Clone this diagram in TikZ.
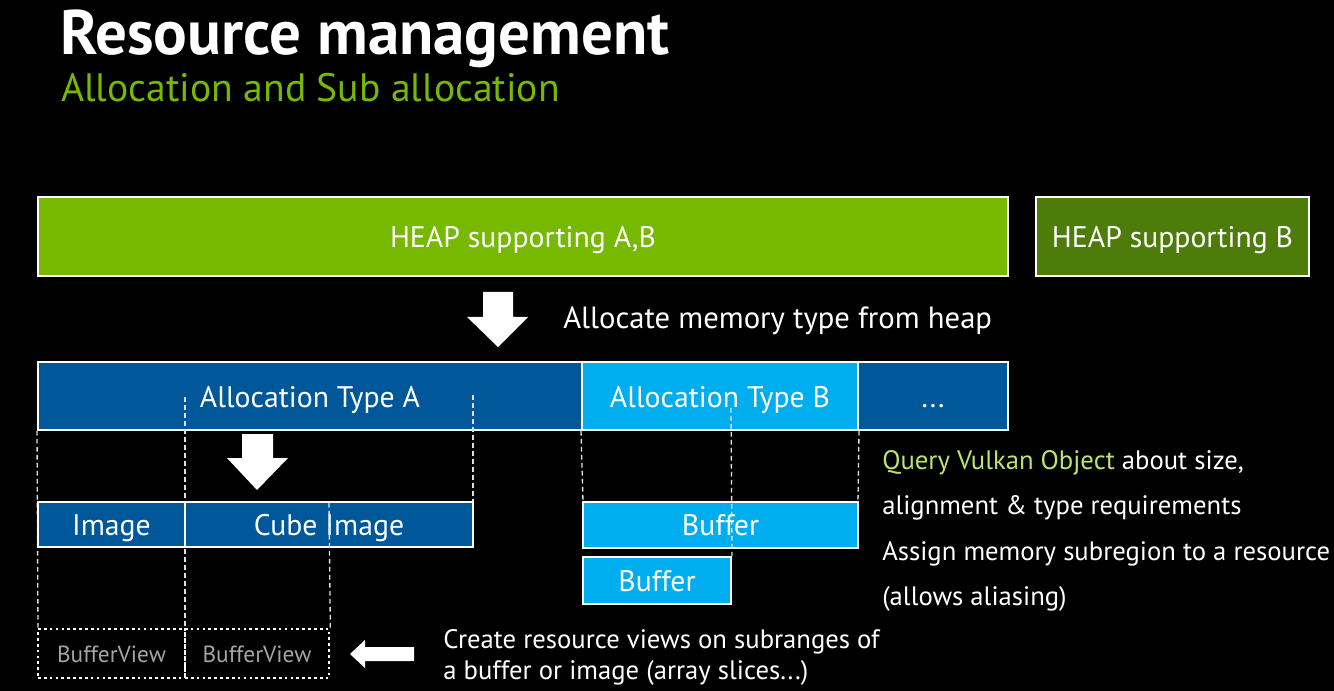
\documentclass[tikz,border=0pt]{standalone}
\usepackage{fontspec}
\setmainfont{PT Sans}
\usetikzlibrary{fit}
\definecolor{nvgreen}{RGB}{118,185,0}
\definecolor{heapb}{RGB}{78,124,10}
\definecolor{dblue}{RGB}{0,88,154}
\definecolor{lblue}{RGB}{0,174,239}
\definecolor{qgreen}{RGB}{190,228,110}
\definecolor{bvgrey}{RGB}{165,165,165}
\definecolor{dashgrey}{RGB}{225,225,225}
\tikzset{
  box/.style={draw=white, line width=1.5pt, inner sep=0pt},
  viewbox/.style={draw=white, line width=2pt, dash pattern=on 2pt off 2.4pt, inner sep=0pt},
  boxlabel/.style={anchor=base, inner sep=0pt, text=white, font=\fontsize{22.3}{26}\selectfont},
  viewlabel/.style={anchor=base, inner sep=0pt, text=bvgrey, font=\fontsize{17.5}{21}\selectfont},
  guide/.style={draw=dashgrey, line width=1pt, dash pattern=on 3.5pt off 2.5pt},
  bigarrow/.style={fill=white, draw=none},
  body/.style={text=white, inner sep=0pt, font=\fontsize{23}{27}\selectfont},
  small/.style={text=white, inner sep=0pt, font=\fontsize{20}{24}\selectfont},
}
\begin{document}
\begin{tikzpicture}[x=0.75pt, y=-0.75pt]
\fill[black] (0,0) rectangle (1334,691);
\useasboundingbox (0,0) rectangle (1334,691);
% titles
\node[anchor=base west, inner sep=0pt, text=white, font=\fontsize{47.2}{54}\selectfont\bfseries] (title) at (60,55) {Resource management};
\node[anchor=base west, inner sep=0pt, text=nvgreen, font=\fontsize{29.7}{35}\selectfont] (subtitle) at (61,102) {Allocation and Sub allocation};
% heaps
\node[box, fill=nvgreen, fit={(38,197) (1008,276)}] (heapab) {};
\node[boxlabel] (heapabl) at ([yshift=-8.6pt]heapab.center) {HEAP supporting A,B};
\node[box, fill=heapb, fit={(1036,197) (1309,276)}] (heapb) {};
\node[boxlabel] (heapbl) at ([yshift=-8.6pt]heapb.center) {HEAP supporting B};
% big arrow
\fill[bigarrow] (483,292) -- (513,292) -- (513,317) -- (528,317) -- (498,347) -- (467,317) -- (483,317) -- cycle;
\node[body, anchor=west] (alloctxt) at (563,321) {Allocate memory type from heap};
% allocation types
\node[box, fill=dblue, fit={(38,362) (582,430)}] (typea) {};
\node[boxlabel] (typeal) at (310,407) {Allocation Type A};
\node[box, fill=lblue, fit={(582,362) (858,430)}] (typeb) {};
\node[boxlabel] (typebl) at ([yshift=-8.3pt]typeb.center) {Allocation Type B};
\node[box, fill=dblue, fit={(858,362) (1008,430)}] (more) {};
\node[boxlabel] (morel) at ([yshift=-8.3pt]more.center) {...};
% guide coordinates
\coordinate (ga1) at (185,397);
\coordinate (ga2) at (473,395);
\coordinate (gb1) at (731,408);
\coordinate (gc1) at (329,503);
% guides (drawn before sub boxes)
\draw[guide] (typea.south west) -- (38,629);
\draw[guide] (ga1) -- (185,629);
\draw[guide] (ga2) -- (473,502);
\draw[guide] (typeb.south west) -- (583,502);
\draw[guide] (typeb.south east) -- (858,502);
% small arrow
\fill[bigarrow] (242,434) -- (273,434) -- (273,458) -- (288,458) -- (257,490) -- (227,458) -- (242,458) -- cycle;
% sub allocations
\node[box, fill=dblue, fit={(38,502) (185,547)}] (img) {};
\node[boxlabel] (imgl) at ([yshift=-8pt]img.center) {Image};
\node[box, fill=dblue, fit={(185,502) (473,547)}] (cube) {};
\node[boxlabel] (cubel) at ([yshift=-8pt]cube.center) {Cube Image};
\node[box, fill=lblue, fit={(583,502) (858,548)}] (buf1) {};
\node[boxlabel] (buf1l) at ([yshift=-8pt]buf1.center) {Buffer};
\node[box, fill=lblue, fit={(583,557) (731,604)}] (buf2) {};
\node[boxlabel] (buf2l) at ([yshift=-8pt]buf2.center) {Buffer};
\draw[guide] (gb1) -- (buf2.north east);
% buffer views
\node[viewbox, fit={(38,629) (185,678)}] (bv1) {};
\node[viewlabel] (bv1l) at ([yshift=-6.4pt]bv1.center) {BufferView};
\node[viewbox, fit={(185,629) (329,678)}] (bv2) {};
\node[viewlabel] (bv2l) at ([yshift=-6.4pt]bv2.center) {BufferView};
\draw[guide] (gc1) -- (bv2.north east);
% left arrow
\fill[bigarrow] (414,647) -- (414,661) -- (365,661) -- (365,668) -- (350,654) -- (365,640) -- (365,647) -- cycle;
% right texts
\node[small, anchor=west] (q1) at (882,463) {\textcolor{qgreen}{Query Vulkan Object} about size,};
\node[small, anchor=west] (q2) at (882,508) {alignment \& type requirements};
\node[small, anchor=west] (q3) at (882,554) {Assign memory subregion to a resource};
\node[small, anchor=west] (q4) at (882,599) {(allows aliasing)};
\node[small, anchor=west] (c1) at (443,642) {Create resource views on subranges of};
\node[small, anchor=west] (c2) at (443,673) {a buffer or image (array slices...)};
\end{tikzpicture}
\end{document}
